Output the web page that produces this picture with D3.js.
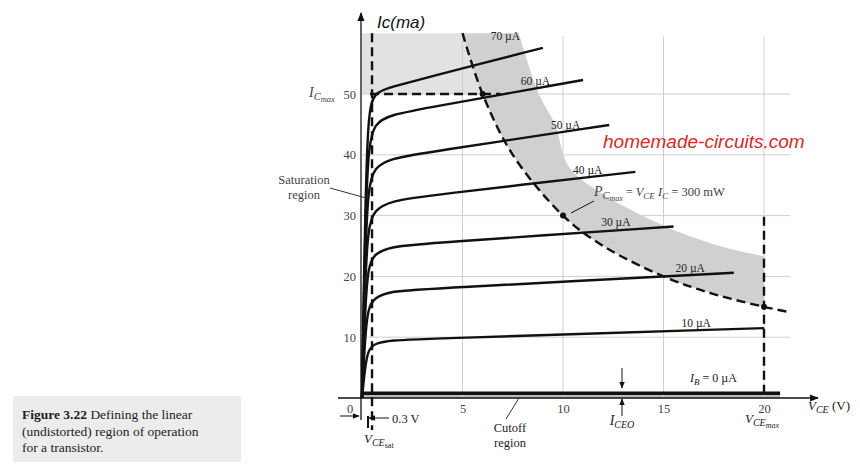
<!DOCTYPE html>
<html>
<head>
<meta charset="utf-8">
<script src="https://cdn.jsdelivr.net/npm/d3@7"></script>
<style>
  body { margin: 0; background: #fff; }
  text { font-family: "Liberation Serif", "DejaVu Serif", serif; }
</style>
</head>
<body>
<div id="chart"></div>
<script>
//--------------------------------------------------
// Datos  [VCE (V), IC (mA)]
//--------------------------------------------------
const IB_NAMES = ["70 µA", "60 µA", "50 µA", "40 µA", "30 µA", "20 µA", "10 µA"];
const IB_70 = [[0,0],[0.15,30],[0.3,47],[0.6,50.3],[1.5,51.2],[3,52.5],[9,57.6]];
const IB_60 = [[0,0],[0.15,27],[0.3,41],[0.6,45.3],[1.5,46.6],[3,47.6],[11,52.3]];
const IB_50 = [[0,0],[0.15,23],[0.3,34.5],[0.6,38],[1.5,39.4],[3,40.3],[12.3,44.9]];
const IB_40 = [[0,0],[0.15,19],[0.3,28],[0.6,31],[1.5,32.4],[3,33.2],[13.6,37.2]];
const IB_30 = [[0,0],[0.15,14.5],[0.3,21.5],[0.6,23.8],[1.5,24.9],[3,25.4],[15.5,28.2]];
const IB_20 = [[0,0],[0.15,10],[0.3,14.8],[0.6,16.5],[1.5,17.6],[3,17.9],[18.5,20.6]];
const IB_10 = [[0,0],[0.15,5],[0.3,7.8],[0.6,9],[1.5,9.5],[3,9.7],[20,11.5]];
const IB_0  = [[0,0.8],[20.8,0.8]];
const CURVES = [IB_70, IB_60, IB_50, IB_40, IB_30, IB_20, IB_10];

// posiciones de etiqueta (VCE, IC) de cada curva
const IB_LABEL_AT = [[6.4,58.9],[7.9,51.4],[9.4,44.2],[10.5,36.8],[11.9,28.3],[15.6,20.7],[15.9,11.6]];

// hipérbola PCmax = 300 mW
const PCMAX_EDGE = [[5,60],[6,50],[7.5,40],[10,30],[12,25],[15,20],[17.5,17.1],[20,15],[21.3,14.1]];
// borde exterior de la banda sombreada
const BAND_EDGE = [[7.8,60],[8.8,50],[9.6,45],[10.3,38],[12,33.5],[13.7,30.4],[16,27],[18,24.8],[20,23.3]];

const X_TICKS = [5, 10, 15, 20];
const Y_TICKS = [10, 20, 30, 40, 50];
const VCE_SAT = 0.3, VCE_MAX = 20, IC_MAX = 50;

//--------------------------------------------------
// Estilo
//--------------------------------------------------
const W = 860, H = 471;
const INK = "#111";
const GREY_TXT = "#444";
const GRID = "#cfcfcf";

const svg = d3.select("#chart").append("svg")
  .attr("width", W).attr("height", H)
  .style("background", "#fff");

const x = d3.scaleLinear().domain([0, 20]).range([362, 764]);
const y = d3.scaleLinear().domain([0, 50]).range([398, 94]);

const line = d3.line().x(d => x(d[0])).y(d => y(d[1]));
const smooth = d3.line().x(d => x(d[0])).y(d => y(d[1])).curve(d3.curveBasis);
const soft = d3.line().x(d => x(d[0])).y(d => y(d[1])).curve(d3.curveCatmullRom);

//--------------------------------------------------
// Zonas sombreadas
//--------------------------------------------------
const topZone = [[0, IC_MAX], [0, 60], [5, 60], [6, IC_MAX]];
svg.append("path")
  .attr("d", line(topZone) + "Z")
  .attr("fill", "#e2e2e2");

// banda: borde exterior, bajada por VCEmax y vuelta por la hipérbola
const hyperBack = PCMAX_EDGE.filter(d => d[0] <= VCE_MAX).reverse();
const bandPath = soft(BAND_EDGE)
  + "L" + x(VCE_MAX) + "," + y(15)
  + soft(hyperBack).replace(/^M/, "L")
  + "Z";
svg.append("path")
  .attr("d", bandPath)
  .attr("fill", "#d0d0d0");

// tira de corte
svg.append("rect")
  .attr("x", x(0)).attr("y", y(0.8))
  .attr("width", x(20.8) - x(0)).attr("height", y(0) - y(0.8))
  .attr("fill", "#bbb");

//--------------------------------------------------
// Rejilla
//--------------------------------------------------
svg.append("g").selectAll("line")
  .data(Y_TICKS).enter().append("line")
  .attr("x1", x(0)).attr("x2", x(21.3))
  .attr("y1", d => y(d)).attr("y2", d => y(d))
  .attr("stroke", GRID).attr("stroke-width", 1);

svg.append("g").selectAll("line")
  .data(X_TICKS).enter().append("line")
  .attr("x1", d => x(d)).attr("x2", d => x(d))
  .attr("y1", y(0)).attr("y2", y(59.5))
  .attr("stroke", GRID).attr("stroke-width", 1);

//--------------------------------------------------
// Ejes
//--------------------------------------------------
const defs = svg.append("defs");
defs.append("marker")
  .attr("id", "arr").attr("viewBox", "0 0 10 10")
  .attr("refX", 9).attr("refY", 5)
  .attr("markerWidth", 7).attr("markerHeight", 7)
  .attr("orient", "auto-start-reverse")
  .append("path").attr("d", "M0,1 L10,5 L0,9 Z").attr("fill", INK);

svg.append("line")
  .attr("x1", 338).attr("x2", 818)
  .attr("y1", y(0)).attr("y2", y(0))
  .attr("stroke", INK).attr("stroke-width", 1.3)
  .attr("marker-end", "url(#arr)");

svg.append("line")
  .attr("x1", x(0) - 1).attr("x2", x(0) - 1)
  .attr("y1", 420).attr("y2", 13)
  .attr("stroke", INK).attr("stroke-width", 1.3)
  .attr("marker-end", "url(#arr)");

// etiquetas de eje con d3.axis
const xAxis = svg.append("g")
  .attr("transform", `translate(0,${y(0)})`)
  .call(d3.axisBottom(x).tickValues(X_TICKS).tickSize(0).tickPadding(6));
xAxis.select(".domain").remove();
xAxis.selectAll("text")
  .attr("font-family", "Liberation Serif").attr("font-size", 12.5).attr("fill", GREY_TXT);

const yAxis = svg.append("g")
  .attr("transform", `translate(${x(0)},0)`)
  .call(d3.axisLeft(y).tickValues(Y_TICKS).tickSize(0).tickPadding(6));
yAxis.select(".domain").remove();
yAxis.selectAll("text")
  .attr("font-family", "Liberation Serif").attr("font-size", 12.5).attr("fill", GREY_TXT);

svg.append("text").attr("x", 350).attr("y", 413)
  .attr("text-anchor", "middle").attr("font-size", 12.5).attr("fill", GREY_TXT).text("0");

svg.append("text").attr("x", 377).attr("y", 28)
  .style("font-family", "Liberation Sans, Arial, sans-serif")
  .attr("font-style", "italic").attr("font-size", 17).attr("fill", INK)
  .text("Ic(ma)");

//--------------------------------------------------
// Curvas
//--------------------------------------------------
svg.append("g").selectAll("path")
  .data(CURVES).enter().append("path")
  .attr("d", d => smooth(d))
  .attr("fill", "none").attr("stroke", INK).attr("stroke-width", 2.4);

svg.append("path")
  .attr("d", line(IB_0))
  .attr("fill", "none").attr("stroke", INK).attr("stroke-width", 3.5);

// límites a trazos
const dash = "9,5";
svg.append("path")
  .attr("d", soft(PCMAX_EDGE))
  .attr("fill", "none").attr("stroke", INK).attr("stroke-width", 2.4)
  .attr("stroke-dasharray", dash);

svg.append("line")
  .attr("x1", x(VCE_SAT) + 2).attr("x2", x(6.9))
  .attr("y1", y(IC_MAX)).attr("y2", y(IC_MAX))
  .attr("stroke", INK).attr("stroke-width", 2.4).attr("stroke-dasharray", dash);

svg.append("line")
  .attr("x1", x(VCE_SAT) + 4).attr("x2", x(VCE_SAT) + 4)
  .attr("y1", y(60)).attr("y2", 430)
  .attr("stroke", INK).attr("stroke-width", 2.4).attr("stroke-dasharray", dash);

svg.append("line")
  .attr("x1", x(VCE_MAX)).attr("x2", x(VCE_MAX))
  .attr("y1", y(29.8)).attr("y2", y(0))
  .attr("stroke", INK).attr("stroke-width", 2.4).attr("stroke-dasharray", dash);

svg.append("g").selectAll("circle")
  .data([[6,50],[10,30],[20,15]]).enter().append("circle")
  .attr("cx", d => x(d[0])).attr("cy", d => y(d[1])).attr("r", 3)
  .attr("fill", INK);

//--------------------------------------------------
// Textos
//--------------------------------------------------
svg.append("g").selectAll("text")
  .data(IB_NAMES).enter().append("text")
  .attr("x", (d, i) => x(IB_LABEL_AT[i][0]))
  .attr("y", (d, i) => y(IB_LABEL_AT[i][1]))
  .attr("font-size", 11.5).attr("fill", "#222")
  .text(d => d);

function sub(parent, xx, yy, parts, size, anchor) {
  const t = parent.append("text").attr("x", xx).attr("y", yy)
    .attr("font-size", size).attr("fill", "#222")
    .attr("text-anchor", anchor || "start");
  parts.forEach(p => {
    t.append("tspan")
      .attr("dy", p.dy || 0)
      .attr("font-size", p.s || size)
      .attr("font-style", p.i ? "italic" : null)
      .text(p.t);
  });
  return t;
}

// IB = 0
sub(svg, 690, 382, [{t:"I", i:1}, {t:"B", i:1, s:9, dy:3}, {t:" = 0 µA", dy:-3}], 12);

// IC max
sub(svg, 309, 97, [{t:"I", i:1, s:14}, {t:"C", i:1, s:10.5, dy:3}, {t:"max", i:1, s:8.5, dy:2}], 14)
  .attr("fill", GREY_TXT);

// PCmax
sub(svg, 594, 196, [{t:"P", i:1, s:14}, {t:"C", i:1, s:10.5, dy:3}, {t:"max", i:1, s:8, dy:2},
  {t:" = ", dy:-5, s:12}, {t:"V", i:1}, {t:"CE", i:1, s:9, dy:3}, {t:" I", i:1, dy:-3},
  {t:"C", i:1, s:9, dy:3}, {t:" = 300 mW", dy:-3}], 12.5).attr("fill", GREY_TXT);
svg.append("line").attr("x1", 594).attr("y1", 201).attr("x2", 571).attr("y2", 213)
  .attr("stroke", INK).attr("stroke-width", 1);

// Saturation region
svg.append("text").attr("x", 304).attr("y", 184).attr("text-anchor", "middle")
  .attr("font-size", 12.5).attr("fill", GREY_TXT).text("Saturation");
svg.append("text").attr("x", 304).attr("y", 199).attr("text-anchor", "middle")
  .attr("font-size", 12.5).attr("fill", GREY_TXT).text("region");
svg.append("line").attr("x1", 330).attr("y1", 188).attr("x2", 366).attr("y2", 198)
  .attr("stroke", "#333").attr("stroke-width", 1);

// Cutoff region
svg.append("text").attr("x", 510).attr("y", 432).attr("text-anchor", "middle")
  .attr("font-size", 12.5).attr("fill", "#222").text("Cutoff");
svg.append("text").attr("x", 510).attr("y", 447).attr("text-anchor", "middle")
  .attr("font-size", 12.5).attr("fill", "#222").text("region");
svg.append("line").attr("x1", 506).attr("y1", 419).attr("x2", 519).attr("y2", 398)
  .attr("stroke", "#333").attr("stroke-width", 1);

// ICEO
svg.append("line").attr("x1", 622).attr("x2", 622).attr("y1", 368).attr("y2", 388)
  .attr("stroke", INK).attr("stroke-width", 1).attr("marker-end", "url(#arr)");
svg.append("line").attr("x1", 622).attr("x2", 622).attr("y1", 416).attr("y2", 399)
  .attr("stroke", INK).attr("stroke-width", 1).attr("marker-end", "url(#arr)");
sub(svg, 622, 425, [{t:"I", i:1}, {t:"CEO", i:1, s:10, dy:3}], 14, "middle");

// VCE (V), VCEmax, VCEsat
sub(svg, 808, 410, [{t:"V", i:1}, {t:"CE", i:1, s:10, dy:3}, {t:" (V)", dy:-3}], 13);
sub(svg, 745, 423, [{t:"V", i:1}, {t:"CE", i:1, s:10, dy:3}, {t:"max", i:1, s:8, dy:2}], 13);
sub(svg, 364, 443, [{t:"V", i:1}, {t:"CE", i:1, s:10, dy:3}, {t:"sat", s:8, dy:2}], 13);

// 0.3 V
svg.append("line").attr("x1", 340).attr("x2", 359).attr("y1", 416).attr("y2", 416)
  .attr("stroke", INK).attr("stroke-width", 1).attr("marker-end", "url(#arr)");
svg.append("line").attr("x1", 389).attr("x2", 369).attr("y1", 418).attr("y2", 418)
  .attr("stroke", INK).attr("stroke-width", 1).attr("marker-end", "url(#arr)");
svg.append("line").attr("x1", 368).attr("x2", 368).attr("y1", 416).attr("y2", 428)
  .attr("stroke", INK).attr("stroke-width", 2);
svg.append("text").attr("x", 392).attr("y", 423)
  .attr("font-size", 12.5).attr("fill", "#222").text("0.3 V");

// marca de agua
svg.append("text").attr("x", 603).attr("y", 148)
  .style("font-family", "Liberation Sans, Arial, sans-serif")
  .attr("font-style", "italic").attr("font-size", 19).attr("fill", "#d42a2a")
  .text("homemade-circuits.com");

//--------------------------------------------------
// Pie de figura
//--------------------------------------------------
svg.append("rect").attr("x", 13).attr("y", 396).attr("width", 228).attr("height", 66)
  .attr("fill", "#ececec");
const cap = svg.append("text").attr("x", 22).attr("y", 419)
  .attr("font-size", 13.5).attr("fill", "#222");
cap.append("tspan").attr("font-weight", "bold").text("Figure 3.22");
cap.append("tspan").text("  Defining the linear");
svg.append("text").attr("x", 22).attr("y", 436)
  .attr("font-size", 13.5).attr("fill", "#222").text("(undistorted) region of operation");
svg.append("text").attr("x", 22).attr("y", 452)
  .attr("font-size", 13.5).attr("fill", "#222").text("for a transistor.");
</script>
</body>
</html>
